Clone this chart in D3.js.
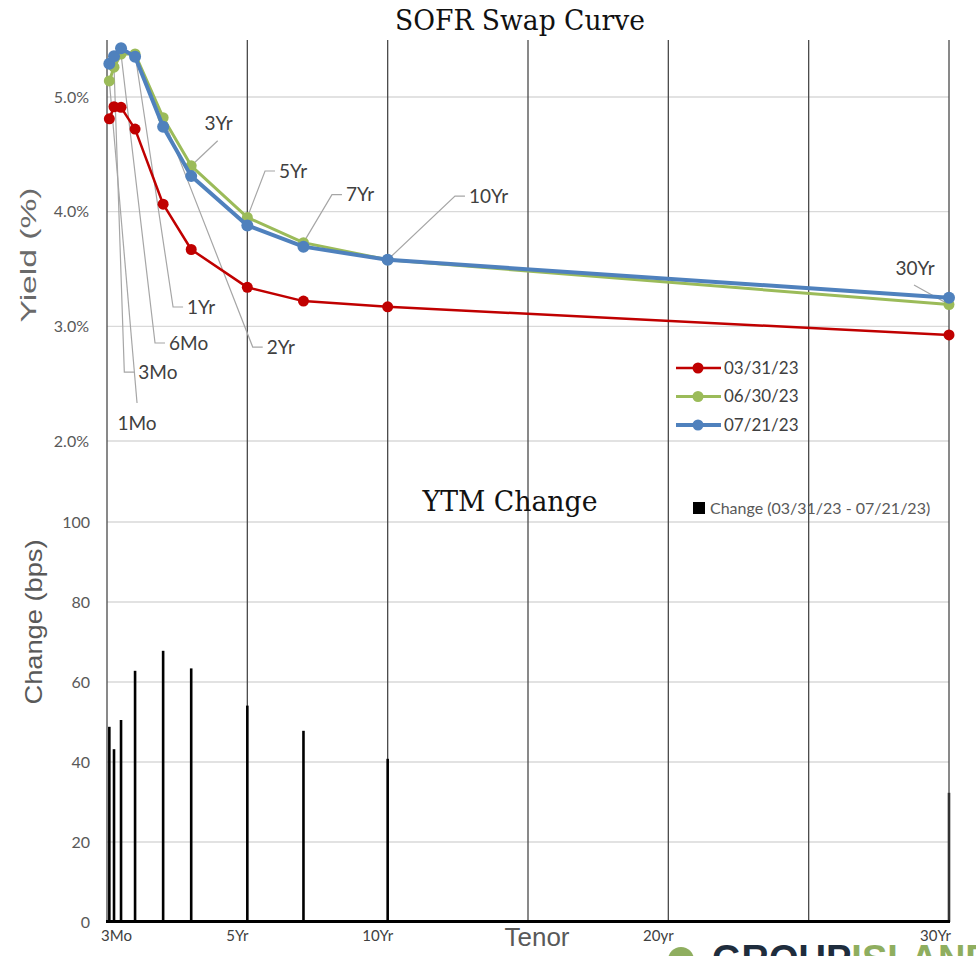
<!DOCTYPE html>
<html><head>
<meta charset="UTF-8">
<title>SOFR Swap Curve</title>
<script src="https://cdn.jsdelivr.net/npm/d3@7"></script>
<style>
  body { margin: 0; background: #fff; }
  svg { display: block; }
  .tick-lbl { font: 16px Lato, sans-serif; fill: #595959; }
  .ann { font: 19px Lato, sans-serif; fill: #404040; }
  .leader { stroke: #a6a6a6; stroke-width: 1.2; fill: none; }
</style>
</head>
<body>
<div id="chart"></div>
<script>
// tenors in years
const tenors = [1/12, 0.25, 0.5, 1, 2, 3, 5, 7, 10, 30];
const tenorNames = ["1Mo", "3Mo", "6Mo", "1Yr", "2Yr", "3Yr", "5Yr", "7Yr", "10Yr", "30Yr"];

// yields (%)
const yieldsMar31 = [4.81, 4.915, 4.91, 4.72, 4.065, 3.67, 3.34, 3.22, 3.17, 2.925];
const yieldsJun30 = [5.14, 5.26, 5.375, 5.375, 4.82, 4.40, 3.95, 3.73, 3.58, 3.19];
const yieldsJul21 = [5.29, 5.355, 5.425, 5.35, 4.74, 4.31, 3.88, 3.695, 3.58, 3.25];

// change 03/31/23 -> 07/21/23 (bps)
const changeBps = [48.8, 43.2, 50.5, 62.8, 67.8, 63.4, 54.1, 47.8, 40.8, 32.3];

const yieldTicks = [2, 3, 4, 5];
const changeTicks = [0, 20, 40, 60, 80, 100];
const gridTenors = [0, 5, 10, 15, 20, 25, 30];
const axisTenors = [0.25, 5, 10, 20, 30];
const axisLabels = ["3Mo", "5Yr", "10Yr", "20yr", "30Yr"];

const series = [
  {name: "03/31/23", values: yieldsMar31, color: "#c00000", width: 2.5, r: 5.5},
  {name: "06/30/23", values: yieldsJun30, color: "#9bbb59", width: 3, r: 5.5},
  {name: "07/21/23", values: yieldsJul21, color: "#4f81bd", width: 4, r: 6}
];

// label placement for data labels (offsets from the 06/30 point)
const labelLayout = [
  {type: "below", dx: 27.7, dy: 322},
  {type: "right", dx: 10.3, dy: 305},
  {type: "right", dx: 34, dy: 289},
  {type: "right", dx: 38, dy: 253},
  {type: "right", dx: 89.6, dy: 229.4},
  {type: "above", dx: 26.5, dy: -25},
  {type: "right", dx: 17.7, dy: -46.4},
  {type: "right", dx: 28.5, dy: -48},
  {type: "right", dx: 67.3, dy: -63.8},
  {type: "above", dx: -35, dy: -19.5}
];

const W = 976, H = 956;
const svg = d3.select("#chart").append("svg")
    .attr("width", W).attr("height", H);
svg.append("rect").attr("width", W).attr("height", H).attr("fill", "#fff");

const x = d3.scaleLinear().domain([0, 30]).range([107, 949]);
const yTop = d3.scaleLinear().domain([2, 5]).range([441, 97]);
const yBot = d3.scaleLinear().domain([0, 100]).range([922, 522]);

// horizontal grid lines
svg.append("g").selectAll("line").data(yieldTicks).join("line")
    .attr("x1", 107).attr("x2", 949)
    .attr("y1", d => yTop(d)).attr("y2", d => yTop(d))
    .attr("stroke", "#d9d9d9").attr("stroke-width", 1.3);
svg.append("g").selectAll("line").data(changeTicks.slice(1)).join("line")
    .attr("x1", 107).attr("x2", 949)
    .attr("y1", d => yBot(d)).attr("y2", d => yBot(d))
    .attr("stroke", "#d9d9d9").attr("stroke-width", 1.3);

// vertical lines through both panels
svg.append("g").selectAll("line").data(gridTenors).join("line")
    .attr("x1", d => x(d)).attr("x2", d => x(d))
    .attr("y1", 40).attr("y2", 922)
    .attr("stroke", "#4a4a4a").attr("stroke-width", 1.3);

// titles
svg.append("text").attr("x", 520).attr("y", 30).attr("text-anchor", "middle")
    .style("font", "28px Georgia, 'DejaVu Serif', serif").attr("fill", "#111")
    .attr("textLength", 250).attr("lengthAdjust", "spacingAndGlyphs")
    .text("SOFR Swap Curve");
svg.append("text").attr("x", 510).attr("y", 511).attr("text-anchor", "middle")
    .style("font", "28px Georgia, 'DejaVu Serif', serif").attr("fill", "#111")
    .attr("textLength", 175).attr("lengthAdjust", "spacingAndGlyphs")
    .text("YTM Change");

// y tick labels
svg.append("g").selectAll("text").data(yieldTicks).join("text")
    .attr("class", "tick-lbl")
    .attr("x", 89).attr("y", d => yTop(d)).attr("dy", "0.35em")
    .attr("text-anchor", "end").text(d => d.toFixed(1) + "%");
svg.append("g").selectAll("text").data(changeTicks).join("text")
    .attr("class", "tick-lbl")
    .attr("x", 90).attr("y", d => yBot(d)).attr("dy", "0.35em")
    .attr("text-anchor", "end").text(d => d);

// axis titles
svg.append("text").attr("transform", "translate(36,255) rotate(-90)")
    .attr("text-anchor", "middle")
    .style("font", "22px 'Liberation Sans', Arial, sans-serif").attr("fill", "#6a6a6a")
    .attr("textLength", 135).attr("lengthAdjust", "spacingAndGlyphs")
    .text("Yield (%)");
svg.append("text").attr("transform", "translate(42,622) rotate(-90)")
    .attr("text-anchor", "middle")
    .style("font", "24px 'Liberation Sans', Arial, sans-serif").attr("fill", "#595959")
    .attr("textLength", 165).attr("lengthAdjust", "spacingAndGlyphs")
    .text("Change (bps)");

// bars
svg.append("g").selectAll("rect").data(changeBps).join("rect")
    .attr("x", (d, i) => x(tenors[i]) - 1.3)
    .attr("width", 2.6)
    .attr("y", d => yBot(d))
    .attr("height", d => yBot(0) - yBot(d))
    .attr("fill", (d, i) => i === tenors.length - 1 ? "#333" : "#000");

// bottom axis line
svg.append("line").attr("x1", 106).attr("x2", 950).attr("y1", 921.5).attr("y2", 921.5)
    .attr("stroke", "#000").attr("stroke-width", 3);

// x tick labels
svg.append("g").selectAll("text").data(axisTenors).join("text")
    .style("font", "15px Lato, sans-serif").attr("fill", "#404040")
    .attr("x", (d, i) => i === 0 ? x(0) - 6 : i === axisTenors.length - 1 ? x(d) + 2 : x(d) - 10)
    .attr("y", 941)
    .attr("text-anchor", (d, i) => i === 0 ? "start" : i === axisTenors.length - 1 ? "end" : "middle")
    .text((d, i) => axisLabels[i]);
svg.append("text").attr("x", 537).attr("y", 946).attr("text-anchor", "middle")
    .style("font", "26px 'Liberation Sans', Arial, sans-serif").attr("fill", "#595959")
    .attr("textLength", 65).attr("lengthAdjust", "spacingAndGlyphs")
    .text("Tenor");

// data label leaders (drawn under the lines)
const green = series[1].values;
const ann = svg.append("g");
labelLayout.forEach((l, i) => {
  const px = x(tenors[i]), py = yTop(green[i]);
  const ex = px + l.dx, ey = py + l.dy;
  if (l.type === "right") {
    ann.append("path").attr("class", "leader")
        .attr("d", `M${px},${py}L${ex},${ey}H${ex + 10}`);
    ann.append("text").attr("class", "ann")
        .attr("x", ex + 14).attr("y", ey).attr("dy", "0.35em")
        .text(tenorNames[i]);
  } else if (l.type === "below") {
    ann.append("path").attr("class", "leader").attr("d", `M${px},${py}L${ex},${ey}`);
    ann.append("text").attr("class", "ann").attr("text-anchor", "middle")
        .attr("x", ex).attr("y", ey + 20).attr("dy", "0.35em")
        .text(tenorNames[i]);
  } else {
    ann.append("path").attr("class", "leader").attr("d", `M${px},${py}L${ex},${ey}`);
    ann.append("text").attr("class", "ann").attr("text-anchor", "middle")
        .attr("x", ex + 1).attr("y", ey - 17).attr("dy", "0.35em")
        .text(tenorNames[i]);
  }
});

// yield lines
const line = d3.line().x((d, i) => x(tenors[i])).y(d => yTop(d));
series.forEach(s => {
  const g = svg.append("g");
  g.append("path").attr("d", line(s.values))
      .attr("fill", "none").attr("stroke", s.color)
      .attr("stroke-width", s.width).attr("stroke-linejoin", "round");
  g.selectAll("circle").data(s.values).join("circle")
      .attr("cx", (d, i) => x(tenors[i])).attr("cy", d => yTop(d))
      .attr("r", s.r).attr("fill", s.color);
});

// legend (top)
const leg = svg.append("g");
series.forEach((s, i) => {
  const ly = 368 + i * 28.5;
  leg.append("line").attr("x1", 676).attr("x2", 721).attr("y1", ly).attr("y2", ly)
      .attr("stroke", s.color).attr("stroke-width", s.width);
  leg.append("circle").attr("cx", 698).attr("cy", ly).attr("r", 5.5).attr("fill", s.color);
  leg.append("text").attr("x", 724).attr("y", ly).attr("dy", "0.35em")
      .style("font", "17px Lato, sans-serif").attr("fill", "#404040").text(s.name);
});

// legend (bottom)
svg.append("rect").attr("x", 693).attr("y", 502).attr("width", 12).attr("height", 12).attr("fill", "#000");
svg.append("text").attr("x", 710).attr("y", 508).attr("dy", "0.35em")
    .style("font", "16px Lato, sans-serif").attr("fill", "#595959")
    .text("Change (03/31/23 - 07/21/23)");

// logo, cut off at the bottom edge
svg.append("circle").attr("cx", 681).attr("cy", 960).attr("r", 13).attr("fill", "#8fae5f");
const logo = svg.append("text").attr("x", 712).attr("y", 972)
    .style("font", "bold 38px 'Liberation Sans', Arial, sans-serif");
logo.append("tspan").attr("fill", "#1f2d3d").text("GROUP");
logo.append("tspan").attr("fill", "#8fae5f").text("ISLAND");
</script>
</body></html>
